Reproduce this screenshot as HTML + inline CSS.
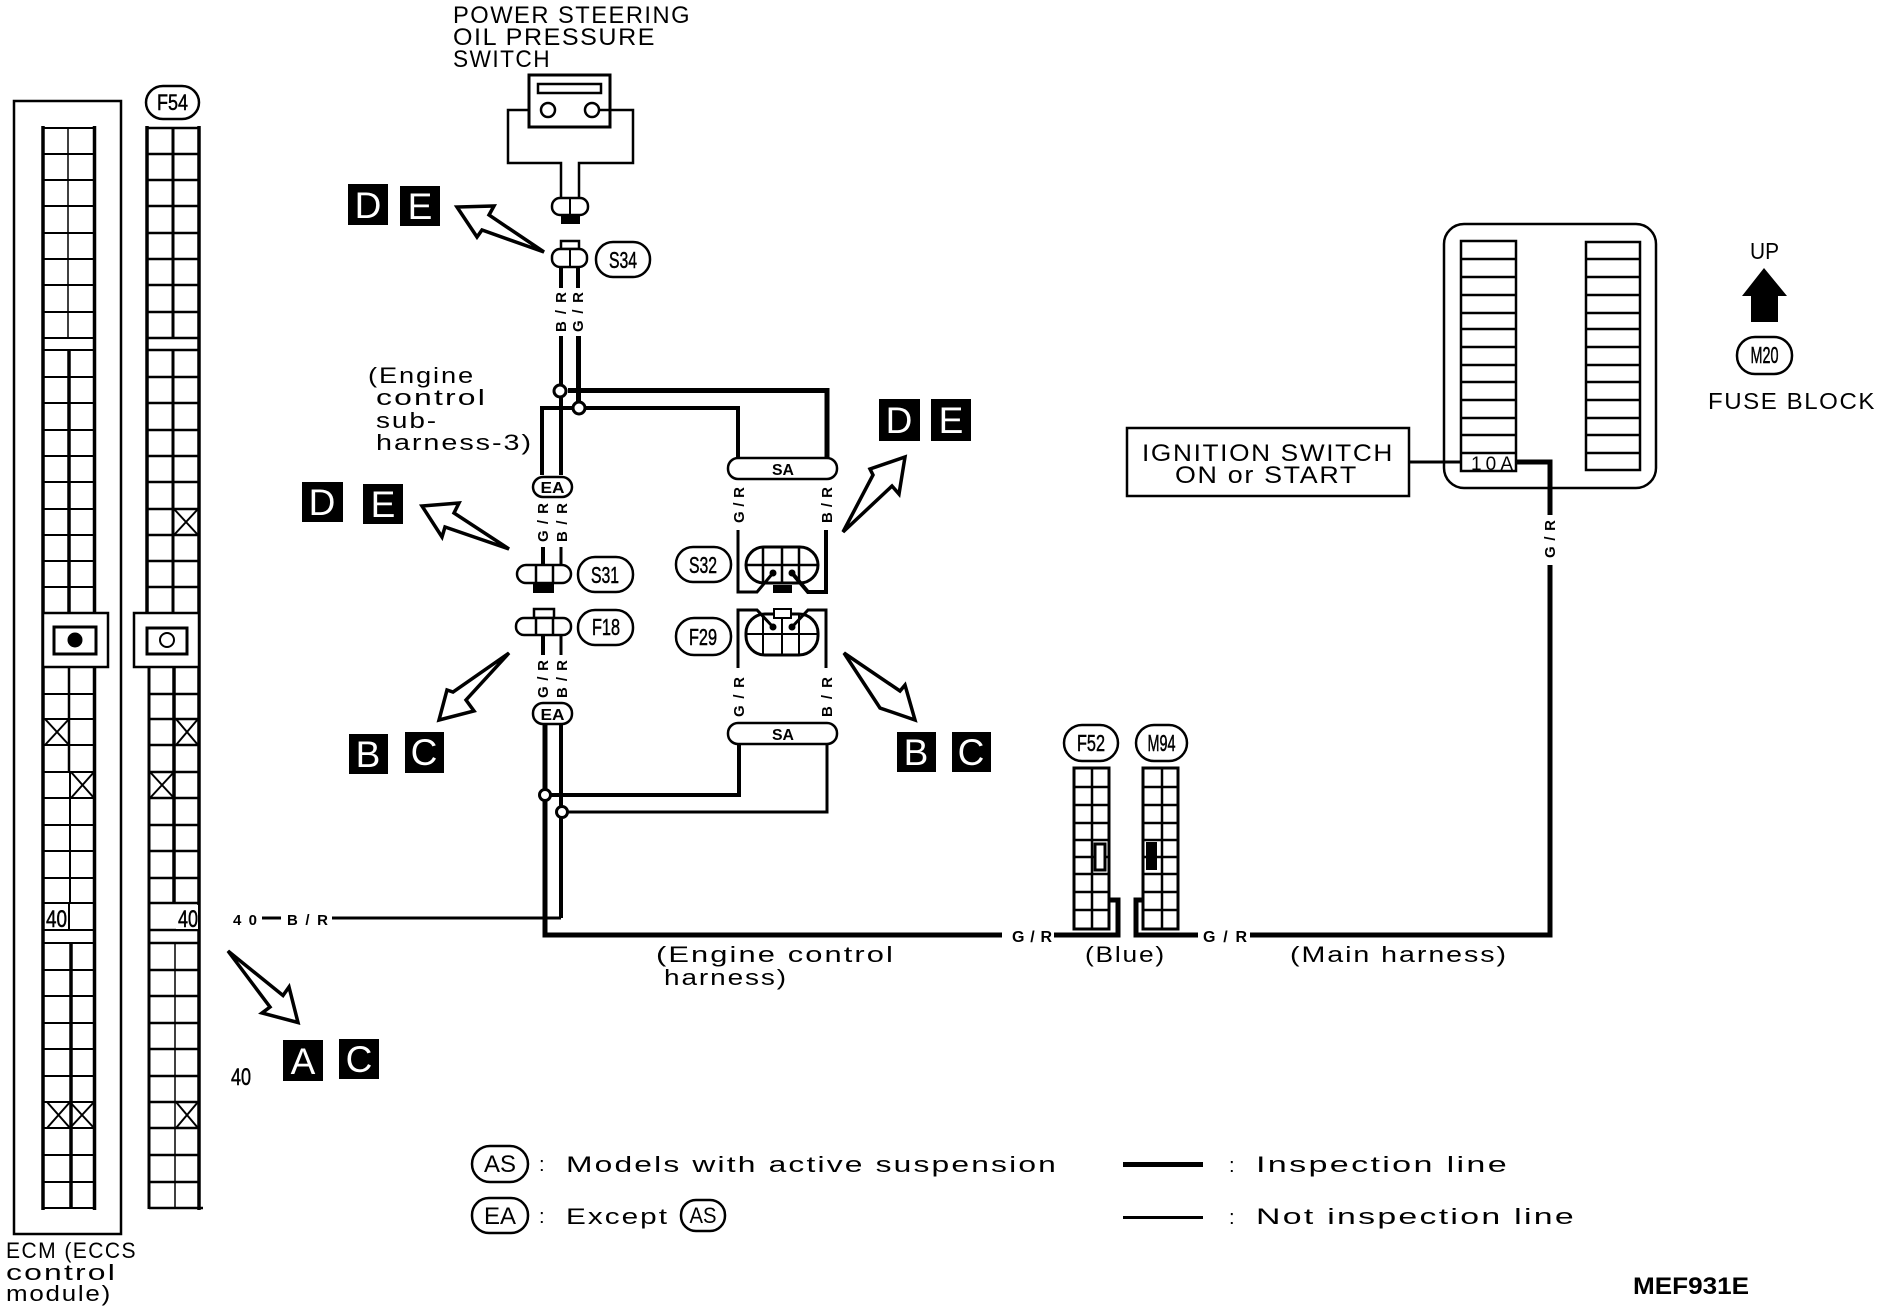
<!DOCTYPE html>
<html><head><meta charset="utf-8"><style>
html,body{margin:0;padding:0;background:#fff}
svg{display:block}
text{font-family:"Liberation Sans",sans-serif;fill:#000}
.l{fill:none;stroke:#000;stroke-linejoin:miter}
.s{fill:#fff;stroke:#000}
.b{font-weight:bold}
.w{fill:#fff;text-anchor:middle;font-size:37px}
.v{letter-spacing:1.5px}
.o{stroke:#000;stroke-width:.5px}
</style></head><body>
<svg width="1878" height="1312" viewBox="0 0 1878 1312" xmlns="http://www.w3.org/2000/svg">
<rect width="1878" height="1312" fill="#fff"/>

<!-- ECM box -->
<rect class="l" x="14" y="101" width="107" height="1133" stroke-width="2.500"/>

<!-- left connector -->
<path class="l" stroke-width="2" d="M43 128H95M43 154H95M43 180H95M43 206H95M43 233H95M43 259H95M43 285H95M43 312H95M43 338H95M43 350H95M43 377H95M43 403H95M43 430H95M43 456H95M43 482H95M43 509H95M43 535H95M43 561H95M43 587H95M43 694H95M43 719H95M43 745H95M43 772H95M43 798H95M43 825H95M43 851H95M43 878H95M43 903H95M43 930H95M43 943H95M43 970H95M43 996H95M43 1023H95M43 1049H95M43 1076H95M43 1102H95M43 1128H95M43 1155H95M43 1182H95M43 1208H95"/>
<path class="l" stroke-width="3.500" d="M43 126V1210M94.500 126V1210"/>
<path class="l" stroke-width="1.500" d="M68 128V338"/>
<path class="l" stroke-width="3.500" d="M69 350V613"/>
<path class="l" stroke-width="2.500" d="M69 667V772"/>
<path class="l" stroke-width="2" d="M70 772V903"/>
<path class="l" stroke-width="3.500" d="M71 943V1208"/>
<rect class="s" x="43" y="613" width="65" height="54" stroke-width="2.500"/>
<rect class="s" x="54" y="627" width="42" height="27" stroke-width="3"/>
<circle cx="75" cy="640" r="7.500"/>
<path class="l" stroke-width="2" d="M45 719L69 745M69 719L45 745M71 772L94 798M94 772L71 798M47 1102L70 1128M70 1102L47 1128M70 1102L94 1128M94 1102L70 1128"/>
<rect x="45" y="905" width="23" height="24" fill="#fff"/>
<path class="l" stroke-width="2" d="M69 903V930"/>
<text class="o" x="46" y="927" font-size="24" textLength="21" lengthAdjust="spacingAndGlyphs">40</text>

<!-- right connector (F54) -->
<rect class="s" x="146" y="86" width="53" height="33" rx="17" stroke-width="2.500"/>
<text class="o" x="172.500" y="110" font-size="22" text-anchor="middle" textLength="31" lengthAdjust="spacingAndGlyphs">F54</text>
<path class="l" stroke-width="2.500" d="M147 128H199M147 154H199M147 180H199M147 206H199M147 233H199M147 259H199M147 285H199M147 312H199M147 338H199M147 350H199M147 377H199M147 403H199M147 430H199M147 456H199M147 482H199M147 509H199M147 535H199M147 561H199M147 587H199M149 694H199M149 719H199M149 745H199M149 772H199M149 798H199M149 825H199M149 851H199M149 878H199M149 903H199M149 930H199M149 943H199M149 970H199M149 996H199M149 1023H199M149 1049H199M149 1076H199M149 1102H199M149 1128H199M149 1155H199M149 1182H199M149 1208H203"/>
<path class="l" stroke-width="3.500" d="M147 126V613M199 126V1210"/>
<path class="l" stroke-width="3" d="M149 667V1209"/>
<path class="l" stroke-width="3" d="M173 128V338M173 350V613"/>
<path class="l" stroke-width="3.500" d="M174 667V903"/>
<path class="l" stroke-width="1.500" d="M175 943V1208"/>
<rect class="s" x="134" y="613" width="65" height="54" stroke-width="2.500"/>
<rect class="s" x="147" y="628" width="40" height="26" stroke-width="3"/>
<circle class="s" cx="167" cy="640" r="7" stroke-width="2"/>
<path class="l" stroke-width="2" d="M174 509L198 535M198 509L174 535M176 719L198 745M198 719L176 745M150 772L174 798M174 772L150 798M176 1102L198 1128M198 1102L176 1128"/>
<rect x="176" y="905" width="22" height="24" fill="#fff"/>
<text class="o" x="178" y="927" font-size="24" textLength="20" lengthAdjust="spacingAndGlyphs">40</text>

<text class="v" x="6" y="1258" font-size="22" textLength="131" lengthAdjust="spacingAndGlyphs">ECM (ECCS</text>
<text class="v" x="6" y="1280" font-size="22" textLength="111" lengthAdjust="spacingAndGlyphs">control</text>
<text class="v" x="6" y="1301" font-size="22" textLength="106" lengthAdjust="spacingAndGlyphs">module)</text>

<!-- 40 B/R -->
<text x="233" y="925" font-size="15" class="b" textLength="24">40</text>
<path class="l" stroke-width="3" d="M262 918H281M332 918H561"/>
<text x="287" y="925" font-size="15" class="b" textLength="41">B/R</text>
<text class="o" x="231" y="1085" font-size="24" textLength="20" lengthAdjust="spacingAndGlyphs">40</text>

<!-- A C -->
<path class="s" stroke-width="3.500" d="M228 951L283 995.500L289 987L298 1022.500L262 1013L270 1007Z"/>
<rect x="283" y="1040" width="40" height="41"/><text class="w" x="303" y="1074">A</text>
<rect x="339" y="1039" width="40" height="40"/><text class="w" x="359" y="1072">C</text>

<!-- Power steering -->
<text class="v" x="453" y="23" font-size="24" textLength="238" lengthAdjust="spacingAndGlyphs">POWER STEERING</text>
<text class="v" x="453" y="45" font-size="24" textLength="203" lengthAdjust="spacingAndGlyphs">OIL PRESSURE</text>
<text class="v" x="453" y="67" font-size="24" textLength="98" lengthAdjust="spacingAndGlyphs">SWITCH</text>
<rect class="l" x="529" y="75" width="81" height="52" stroke-width="3"/>
<rect class="l" x="538" y="84" width="63" height="9" stroke-width="2.500"/>
<path class="l" stroke-width="2.500" d="M529 110H508V163H561V197M610 110H633V163H579V197M599 110H610"/>
<circle class="s" cx="548" cy="110" r="7" stroke-width="2.500"/>
<circle class="s" cx="592" cy="110" r="7" stroke-width="2.500"/>
<rect class="s" x="552" y="198" width="36" height="17" rx="8" stroke-width="2.500"/>
<path class="l" stroke-width="2" d="M570 198V215"/>
<rect x="561" y="214" width="19" height="10"/>

<path class="s" stroke-width="3.500" d="M544 252L489 215L494 206L457 207L477 237L482 230Z"/>
<rect x="348" y="184" width="40" height="41"/><text class="w" x="368" y="218">D</text>
<rect x="400" y="186" width="40" height="40"/><text class="w" x="420" y="219">E</text>

<rect class="l" x="561" y="241" width="18" height="8" stroke-width="2.500"/>
<rect class="s" x="552" y="249" width="35" height="18" rx="8" stroke-width="2.500"/>
<path class="l" stroke-width="2" d="M570 249V267"/>
<rect class="s" x="596" y="242" width="54" height="35" rx="17" stroke-width="2.500"/>
<text class="o" x="623" y="268" font-size="23" text-anchor="middle" textLength="28" lengthAdjust="spacingAndGlyphs">S34</text>

<path class="l" stroke-width="4" d="M561 267V288M578 267V288"/>
<text transform="translate(566,332) rotate(-90)" font-size="15" class="b" textLength="40">B/R</text>
<text transform="translate(583,332) rotate(-90)" font-size="15" class="b" textLength="40">G/R</text>
<path class="l" stroke-width="4" d="M561 336V475"/>
<path class="l" stroke-width="5" d="M578.500 336V408"/>
<path class="l" stroke-width="5" d="M568 390.500H827V458"/>
<path class="l" stroke-width="4" d="M542 475V408H738V458"/>
<circle class="s" cx="560" cy="391" r="6" stroke-width="3"/>
<circle class="s" cx="579" cy="408" r="6" stroke-width="3"/>

<text class="v" x="368" y="383" font-size="22" textLength="107" lengthAdjust="spacingAndGlyphs">(Engine</text>
<text class="v" x="376" y="405" font-size="22" textLength="111" lengthAdjust="spacingAndGlyphs">control</text>
<text class="v" x="376" y="428" font-size="22" textLength="62" lengthAdjust="spacingAndGlyphs">sub-</text>
<text class="v" x="376" y="450" font-size="22" textLength="157" lengthAdjust="spacingAndGlyphs">harness-3)</text>

<rect class="s" x="533" y="477" width="39" height="20" rx="10" stroke-width="2.500"/>
<text x="552.500" y="493" font-size="16" class="b" text-anchor="middle" textLength="24" lengthAdjust="spacingAndGlyphs">EA</text>
<rect class="s" x="728" y="458" width="109" height="21" rx="10" stroke-width="2.500"/>
<text x="783" y="475" font-size="16" class="b" text-anchor="middle" textLength="22" lengthAdjust="spacingAndGlyphs">SA</text>

<text transform="translate(548,542) rotate(-90)" font-size="15" class="b" textLength="39">G/R</text>
<text transform="translate(567,542) rotate(-90)" font-size="15" class="b" textLength="39">B/R</text>
<text transform="translate(744,523) rotate(-90)" font-size="15" class="b" textLength="36">G/R</text>
<text transform="translate(832,523) rotate(-90)" font-size="15" class="b" textLength="36">B/R</text>

<!-- D E left -->
<path class="s" stroke-width="3.500" d="M509 549L454 513L459 503L422 506L442 537L445 527Z"/>
<rect x="302" y="482" width="41" height="40"/><text class="w" x="322" y="515">D</text>
<rect x="363" y="484" width="40" height="40"/><text class="w" x="383" y="517">E</text>

<!-- S31/F18 -->
<path class="l" stroke-width="4" d="M543 547V565"/><path class="l" stroke-width="3" d="M561 547V565"/>
<rect class="s" x="517" y="565" width="54" height="18" rx="9" stroke-width="2.500"/>
<path class="l" stroke-width="2.500" d="M536 565V583M553 565V583"/>
<rect x="533" y="583" width="21" height="10"/>
<rect class="s" x="578" y="557" width="55" height="35" rx="17" stroke-width="2.500"/>
<text class="o" x="605" y="583" font-size="23" text-anchor="middle" textLength="28" lengthAdjust="spacingAndGlyphs">S31</text>
<rect class="s" x="534" y="609" width="20" height="9" stroke-width="2.500"/>
<rect class="s" x="516" y="618" width="55" height="17" rx="8" stroke-width="2.500"/>
<path class="l" stroke-width="2.500" d="M536 618V635M553 618V635"/>
<path class="l" stroke-width="4" d="M543 635V655"/><path class="l" stroke-width="3" d="M561 635V655"/>
<rect class="s" x="578" y="610" width="55" height="35" rx="17" stroke-width="2.500"/>
<text class="o" x="606" y="635" font-size="23" text-anchor="middle" textLength="28" lengthAdjust="spacingAndGlyphs">F18</text>

<text transform="translate(548,698) rotate(-90)" font-size="15" class="b" textLength="38">G/R</text>
<text transform="translate(567,698) rotate(-90)" font-size="15" class="b" textLength="38">B/R</text>

<!-- S32 -->
<rect class="s" x="676" y="547" width="55" height="35" rx="17" stroke-width="2.500"/>
<text class="o" x="703" y="573" font-size="23" text-anchor="middle" textLength="28" lengthAdjust="spacingAndGlyphs">S32</text>
<rect class="s" x="746" y="547" width="72" height="36" rx="18" stroke-width="3"/>
<path class="l" stroke-width="2.500" d="M763 547V583M782 547V583M799 547V583M746 565H818"/>
<path class="l" stroke-width="3" d="M738 530V592H757L773 573"/>
<path class="l" stroke-width="4" d="M826 530V592H808L792 573"/>
<circle cx="773" cy="573" r="3.500"/><circle cx="792" cy="573" r="3.500"/>
<rect x="773" y="585" width="19" height="8"/>

<!-- F29 -->
<rect class="s" x="676" y="618" width="55" height="37" rx="18" stroke-width="2.500"/>
<text class="o" x="703" y="645" font-size="23" text-anchor="middle" textLength="28" lengthAdjust="spacingAndGlyphs">F29</text>
<rect class="s" x="746" y="614" width="72" height="41" rx="19" stroke-width="3"/>
<path class="l" stroke-width="2" d="M763 614V655M782 614V655M799 614V655M746 634H818"/>
<path class="l" stroke-width="3" d="M738 668V610H757L773 627"/>
<path class="l" stroke-width="3" d="M826 668V610H808L792 627"/>
<circle cx="773" cy="627" r="3.500"/><circle cx="792" cy="627" r="3.500"/>
<rect class="s" x="774" y="609" width="17" height="9" stroke-width="2"/>

<text transform="translate(744,717) rotate(-90)" font-size="15" class="b" textLength="40">G/R</text>
<text transform="translate(832,717) rotate(-90)" font-size="15" class="b" textLength="40">B/R</text>

<!-- arrows to BC, DE -->
<path class="s" stroke-width="3.500" d="M509 653L466 700L474 711L439 720L447 690L453 692Z"/>
<rect x="349" y="734" width="39" height="40"/><text class="w" x="368" y="767">B</text>
<rect x="405" y="732" width="39" height="41"/><text class="w" x="424" y="765">C</text>
<path class="s" stroke-width="3.500" d="M844 653L880 708L915 720L905 685L900 691Z"/>
<rect x="897" y="732" width="39" height="40"/><text class="w" x="916" y="765">B</text>
<rect x="952" y="732" width="39" height="40"/><text class="w" x="971" y="765">C</text>
<path class="s" stroke-width="3.500" d="M843 532L873 475L870 469L905 457L899 494L892 486Z"/>
<rect x="879" y="399" width="41" height="42"/><text class="w" x="899" y="433">D</text>
<rect x="931" y="399" width="40" height="42"/><text class="w" x="951" y="433">E</text>

<!-- lower harness -->
<rect class="s" x="533" y="703" width="39" height="21" rx="10" stroke-width="2.500"/>
<text x="552.500" y="720" font-size="16" class="b" text-anchor="middle" textLength="24" lengthAdjust="spacingAndGlyphs">EA</text>
<rect class="s" x="728" y="723" width="109" height="21" rx="10" stroke-width="2.500"/>
<text x="783" y="740" font-size="16" class="b" text-anchor="middle" textLength="22" lengthAdjust="spacingAndGlyphs">SA</text>
<path class="l" stroke-width="5" d="M545 724V935H1002"/>
<path class="l" stroke-width="4" d="M561 724V918"/>
<path class="l" stroke-width="4" d="M544 795H739V744"/>
<path class="l" stroke-width="3" d="M827 744V812H561"/>
<circle class="s" cx="545" cy="795" r="5.500" stroke-width="3"/>
<circle class="s" cx="562" cy="812" r="5.500" stroke-width="3"/>
<text x="1012" y="942" font-size="16" class="b" textLength="40">G/R</text>
<path class="l" stroke-width="5" d="M1054 935H1118V900H1109"/>
<path class="l" stroke-width="5" d="M1144 900H1136V935H1198"/>
<text x="1203" y="942" font-size="16" class="b" textLength="44">G/R</text>
<path class="l" stroke-width="5" d="M1250 935H1550V565M1550 515V462H1517"/>
<text transform="translate(1555,558) rotate(-90)" font-size="15" class="b" textLength="38">G/R</text>

<text class="v" x="656" y="962" font-size="22" textLength="239" lengthAdjust="spacingAndGlyphs">(Engine control</text>
<text class="v" x="664" y="985" font-size="22" textLength="124" lengthAdjust="spacingAndGlyphs">harness)</text>
<text class="v" x="1085" y="962" font-size="22" textLength="81" lengthAdjust="spacingAndGlyphs">(Blue)</text>
<text class="v" x="1290" y="962" font-size="22" textLength="218" lengthAdjust="spacingAndGlyphs">(Main harness)</text>

<!-- F52 -->
<rect class="s" x="1064" y="725" width="54" height="36" rx="18" stroke-width="2.500"/>
<text class="o" x="1091" y="751" font-size="23" text-anchor="middle" textLength="28" lengthAdjust="spacingAndGlyphs">F52</text>
<rect class="l" x="1074" y="768" width="35" height="161" stroke-width="3"/>
<path class="l" stroke-width="2.500" d="M1092 768V929M1074 787H1109M1074 805H1109M1074 823H1109M1074 840H1109M1074 857H1109M1074 874H1109M1074 892H1109M1074 910H1109"/>
<rect class="s" x="1095" y="844" width="10" height="26" stroke-width="3"/>
<!-- M94 -->
<rect class="s" x="1136" y="725" width="51" height="36" rx="18" stroke-width="2.500"/>
<text class="o" x="1161.500" y="751" font-size="23" text-anchor="middle" textLength="28" lengthAdjust="spacingAndGlyphs">M94</text>
<rect class="l" x="1143" y="768" width="35" height="161" stroke-width="3"/>
<path class="l" stroke-width="2.500" d="M1162 768V929M1143 787H1178M1143 805H1178M1143 823H1178M1143 840H1178M1143 857H1178M1143 874H1178M1143 892H1178M1143 910H1178"/>
<rect x="1146" y="842" width="11" height="28"/>

<!-- Fuse block -->
<rect class="l" x="1444" y="224" width="212" height="264" rx="20" stroke-width="2.500"/>
<rect class="s" x="1461" y="241" width="55" height="230" stroke-width="2.500"/>
<path class="l" stroke-width="2.500" d="M1461 259H1516M1461 277H1516M1461 295H1516M1461 313H1516M1461 329H1516M1461 347H1516M1461 365H1516M1461 382H1516M1461 400H1516M1461 418H1516M1461 435H1516M1461 453H1516"/>
<rect class="s" x="1586" y="242" width="54" height="228" stroke-width="2.500"/>
<path class="l" stroke-width="2.500" d="M1586 259H1640M1586 277H1640M1586 295H1640M1586 313H1640M1586 329H1640M1586 347H1640M1586 365H1640M1586 382H1640M1586 400H1640M1586 418H1640M1586 435H1640M1586 453H1640"/>
<text x="1471" y="470" font-size="19" textLength="42">10A</text>
<path class="l" stroke-width="3" d="M1409 462H1461"/>
<rect class="l" x="1127" y="428" width="282" height="68" stroke-width="2.500"/>
<text class="v" x="1142" y="461" font-size="24" textLength="252" lengthAdjust="spacingAndGlyphs">IGNITION SWITCH</text>
<text class="v" x="1175" y="483" font-size="24" textLength="183" lengthAdjust="spacingAndGlyphs">ON or START</text>

<text x="1750" y="259" font-size="23" textLength="29" lengthAdjust="spacingAndGlyphs">UP</text>
<path d="M1764 268L1787 296H1778V322H1751V296H1742Z"/>
<rect class="s" x="1737" y="337" width="55" height="37" rx="18" stroke-width="2.500"/>
<text class="o" x="1764.500" y="363" font-size="23" text-anchor="middle" textLength="28" lengthAdjust="spacingAndGlyphs">M20</text>
<text class="v" x="1708" y="409" font-size="23" textLength="168" lengthAdjust="spacingAndGlyphs">FUSE BLOCK</text>

<!-- legend -->
<rect class="s" x="472" y="1146" width="56" height="36" rx="18" stroke-width="2.500"/>
<text x="500" y="1172" font-size="24" text-anchor="middle" textLength="32" lengthAdjust="spacingAndGlyphs">AS</text>
<text x="539" y="1171" font-size="20">:</text>
<text class="v" x="566" y="1172" font-size="22" textLength="492" lengthAdjust="spacingAndGlyphs">Models with active suspension</text>
<rect x="1123" y="1162" width="80" height="5"/>
<text x="1229" y="1172" font-size="20">:</text>
<text class="v" x="1256" y="1172" font-size="22" textLength="253" lengthAdjust="spacingAndGlyphs">Inspection line</text>
<rect class="s" x="472" y="1198" width="56" height="35" rx="17" stroke-width="2.500"/>
<text x="500" y="1224" font-size="24" text-anchor="middle" textLength="32" lengthAdjust="spacingAndGlyphs">EA</text>
<text x="539" y="1223" font-size="20">:</text>
<text class="v" x="566" y="1224" font-size="22" textLength="103" lengthAdjust="spacingAndGlyphs">Except</text>
<rect class="s" x="681" y="1200" width="44" height="31" rx="15" stroke-width="2.500"/>
<text x="703" y="1223" font-size="22" text-anchor="middle" textLength="27" lengthAdjust="spacingAndGlyphs">AS</text>
<rect x="1123" y="1216" width="80" height="3"/>
<text x="1229" y="1224" font-size="20">:</text>
<text class="v" x="1256" y="1224" font-size="22" textLength="320" lengthAdjust="spacingAndGlyphs">Not inspection line</text>
<text x="1633" y="1294" font-size="24" class="b" textLength="116" lengthAdjust="spacingAndGlyphs">MEF931E</text>
</svg>
</body></html>
